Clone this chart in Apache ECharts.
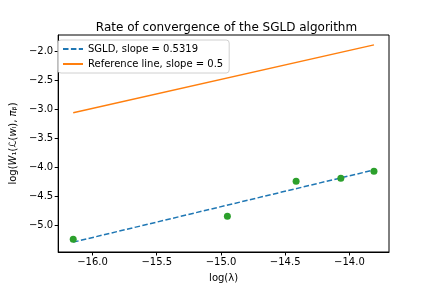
<!DOCTYPE html>
<html>
<head>
<meta charset="utf-8">
<script src="https://cdn.jsdelivr.net/npm/echarts@6/dist/echarts.min.js"></script>
<style>html,body{margin:0;padding:0;background:#fff}#c{width:432px;height:288px}</style>
</head>
<body>
<div id="c"></div>
<script>
// Data
var pointX = [-16.15, -14.95, -14.415, -14.067, -13.809];
var pointY = [-5.247, -4.850, -4.247, -4.195, -4.074];
var fitX = [-16.15, -13.809];
var fitY = [-5.296, -4.051];
var refX = [-16.15, -13.809];
var refY = [-3.065, -1.894];
var xTicks = [-16.0, -15.5, -15.0, -14.5, -14.0];
var yTicks = [-5.0, -4.5, -4.0, -3.5, -3.0, -2.5, -2.0];
var seriesNames = ['SGLD, slope = 0.5319', 'Reference line, slope = 0.5'];

function zip(a, b) { return a.map(function (v, i) { return [v, b[i]]; }); }
function fmt(v) { return v.toFixed(1).replace('-', '\u2212'); }

var font = 'DejaVu Sans';
var chart = echarts.init(document.getElementById('c'), null, {renderer: 'canvas'});
chart.setOption({
  animation: false,
  backgroundColor: '#fff',
  textStyle: {fontFamily: font},
  title: {
    text: 'Rate of convergence of the SGLD algorithm',
    left: 221.5, top: 17, textAlign: 'center',
    textStyle: {fontFamily: font, fontSize: 12, fontWeight: 'normal', color: '#000'}
  },
  grid: {left: 54, right: 43, top: 35, bottom: 36, show: true, borderColor: '#000', borderWidth: 1, backgroundColor: 'transparent'},
  legend: {
    data: seriesNames,
    orient: 'vertical', left: 58, top: 40,
    itemWidth: 20, itemHeight: 10, itemGap: 5,
    padding: [4, 6, 4, 4],
    borderColor: '#d0d0d0', borderWidth: 1, borderRadius: 3,
    backgroundColor: 'rgba(255,255,255,0.8)',
    itemStyle: {opacity: 0},
    textStyle: {fontFamily: font, fontSize: 10, color: '#000'}
  },
  xAxis: {
    type: 'value', min: -16.267, max: -13.692,
    name: 'log(\u03bb)', nameLocation: 'middle', nameGap: 21,
    nameTextStyle: {fontFamily: font, fontSize: 10, color: '#000'},
    axisLine: {show: true, onZero: false, lineStyle: {color: '#000', width: 1}},
    axisTick: {show: true, length: 3.5, customValues: xTicks, lineStyle: {color: '#000'}},
    axisLabel: {customValues: xTicks, formatter: fmt, margin: 5, fontFamily: font, fontSize: 10, color: '#000'},
    splitLine: {show: false}
  },
  yAxis: {
    type: 'value', min: -5.466, max: -1.724,
    name: '{n|log(}{i|W}{n|\u2081(}{i|\u2112}{n|(}{i|w}{n|\u2097), }{i|\u03c0}{n|\u1d66)}',
    nameLocation: 'middle', nameGap: 38, nameRotate: 90,
    nameTextStyle: {
      fontFamily: font, fontSize: 10, color: '#000',
      rich: {
        n: {fontFamily: font, fontSize: 10, color: '#000'},
        i: {fontFamily: font, fontSize: 10, color: '#000', fontStyle: 'italic'}
      }
    },
    axisLine: {show: true, onZero: false, lineStyle: {color: '#000', width: 1}},
    axisTick: {show: true, length: 3.5, customValues: yTicks, lineStyle: {color: '#000'}},
    axisLabel: {customValues: yTicks, formatter: fmt, margin: 5, fontFamily: font, fontSize: 10, color: '#000'},
    splitLine: {show: false}
  },
  series: [
    {
      name: seriesNames[0], type: 'line', data: zip(fitX, fitY),
      showSymbol: false, symbol: 'none',
      lineStyle: {color: '#1f77b4', width: 1.5, type: [5.5, 2.4]},
      itemStyle: {color: '#1f77b4'}, z: 3
    },
    {
      name: seriesNames[1], type: 'line', data: zip(refX, refY),
      showSymbol: false, symbol: 'none',
      lineStyle: {color: '#ff7f0e', width: 1.5},
      itemStyle: {color: '#ff7f0e'}, z: 3
    },
    {
      name: 'points', type: 'scatter', data: zip(pointX, pointY),
      symbol: 'circle', symbolSize: 7,
      itemStyle: {color: '#2ca02c', opacity: 1}, z: 4
    }
  ]
});
</script>
</body>
</html>
